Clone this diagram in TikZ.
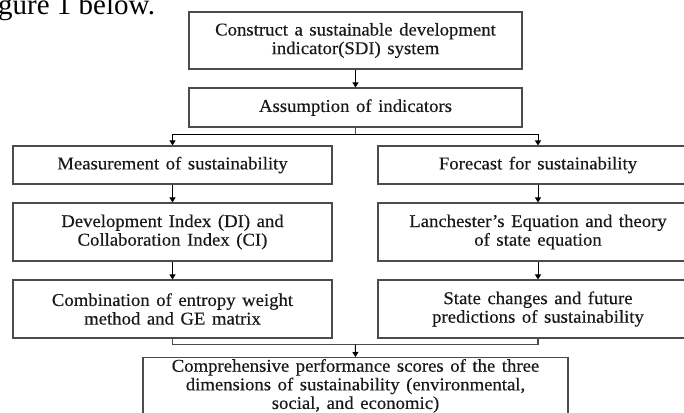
\documentclass[tikz,border=0pt]{standalone}
\usepackage{fontspec}
\setmainfont{Liberation Serif}[FakeStretch=1.04,WordSpace=1.4,FakeBold=0.4]
\newfontfamily\capfont{Liberation Serif}
\usetikzlibrary{arrows.meta,calc}
\begin{document}
\begin{tikzpicture}[x=1pt,y=-1pt,
  box/.style={draw=black!70,line width=1.1pt,inner sep=0pt,align=center,
    text=black!90,font=\fontsize{18}{18.6}\selectfont},
  arr/.style={draw=black,line width=1pt,-{Triangle[length=5pt,width=6pt]}},
  ln/.style={draw=black!70,line width=1.1pt}]
\useasboundingbox (0,0) rectangle (684,412);
\node[anchor=base west,font=\capfont\fontsize{29}{30}\selectfont,inner sep=0pt] (cap) at (-2,15) {gure 1 below.};
\node[box,minimum width=333pt,minimum height=57pt] (top) at (355.5,40.5)
  {Construct a sustainable development\\indicator(SDI) system};
\node[box,minimum width=333pt,minimum height=39pt] (ass) at (355.5,107.5)
  {Assumption of indicators};
\node[box,minimum width=319pt,minimum height=38pt] (mea) at (172.5,165)
  {Measurement of sustainability};
\node[box,minimum width=320pt,minimum height=38pt] (for) at (538,165)
  {Forecast for sustainability};
\node[box,minimum width=319pt,minimum height=58pt] (dev) at (172.5,232)
  {Development Index (DI) and\\Collaboration Index (CI)};
\node[box,minimum width=320pt,minimum height=58pt] (lan) at (538,232)
  {Lanchester’s Equation and theory\\of state equation};
\node[box,minimum width=319pt,minimum height=58pt] (com) at (172.5,309)
  {Combination of entropy weight\\method and GE matrix};
\node[box,minimum width=320pt,minimum height=58pt] (sta) at (538,309)
  {State changes and future\\predictions of sustainability};
\node[box,minimum width=425pt,anchor=north,inner ysep=1.5pt] (cmp) at (355.5,357)
  {Comprehensive performance scores of the three\\dimensions of sustainability (environmental,\\social, and economic)};
\coordinate (split) at ($(ass.south)+(0,7)$);
\coordinate (join) at ($(com.south)!0.5!(sta.south)+(0,6)$);
\draw[arr] (top) -- (ass);
\draw[ln] (ass.south) -- (split);
\draw[arr] (split) -| (mea.north);
\draw[arr] (split) -| (for.north);
\draw[arr] (mea) -- (dev);
\draw[arr] (dev) -- (com);
\draw[arr] (for) -- (lan);
\draw[arr] (lan) -- (sta);
\draw[ln] (com.south) |- (join) -| (sta.south);
\draw[arr] (join) -- (cmp.north);
\end{tikzpicture}
\end{document}
